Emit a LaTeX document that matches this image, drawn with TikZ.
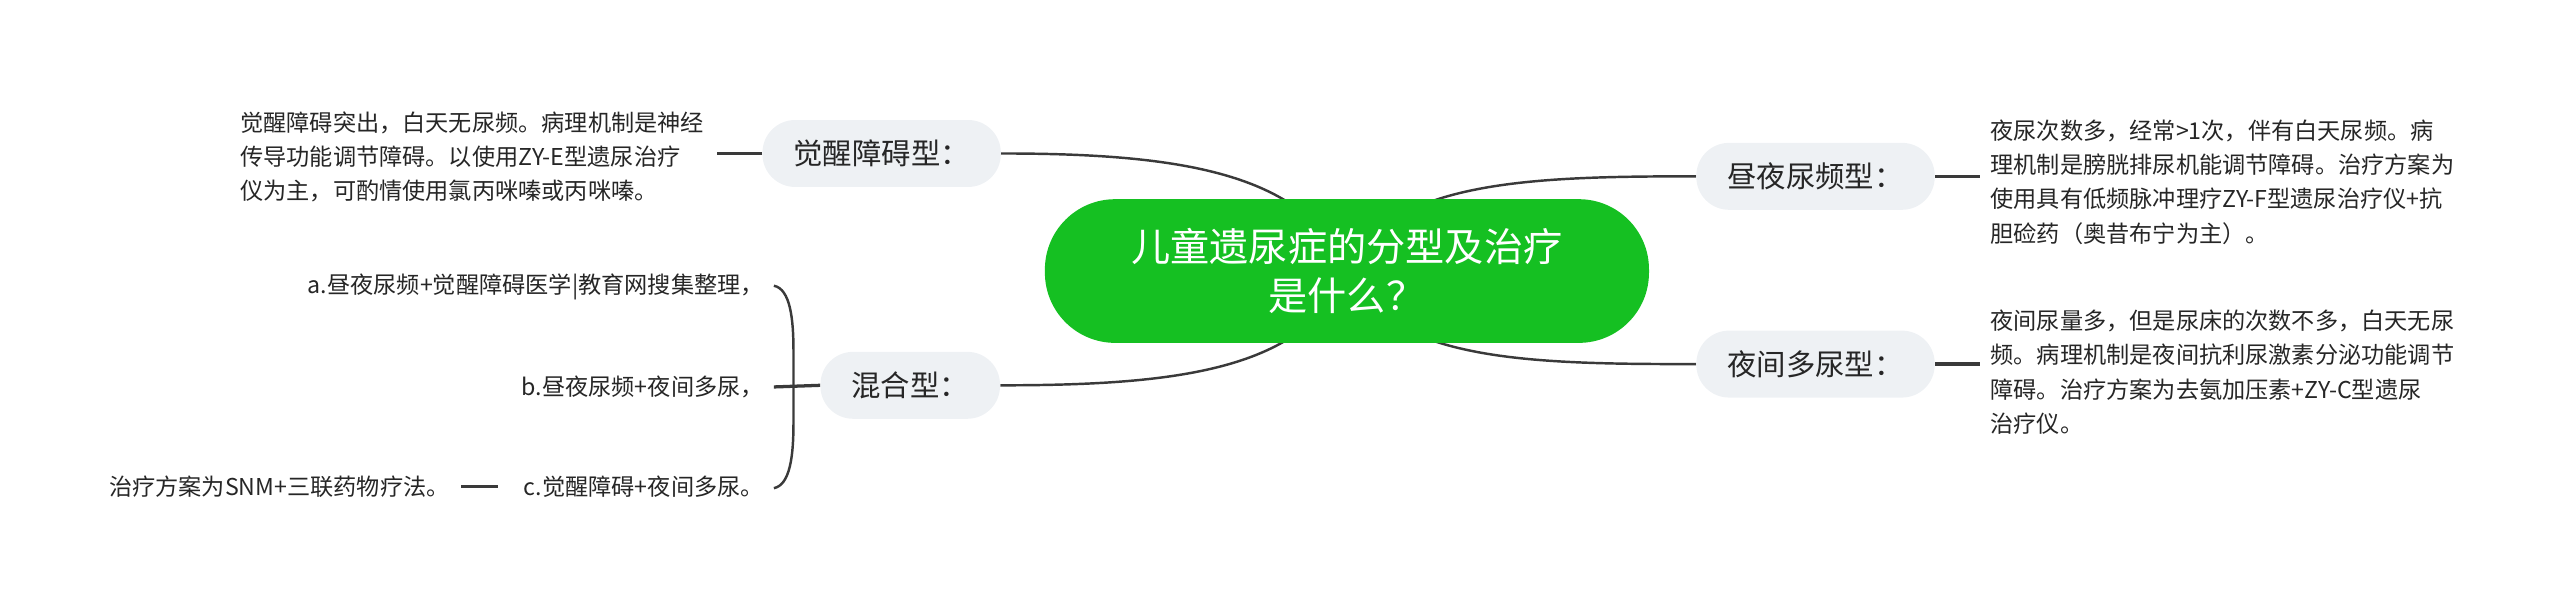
\documentclass[tikz,border=0pt]{standalone}
\usepackage{fontspec}
\setmainfont{Noto Sans CJK SC}
\usetikzlibrary{backgrounds}
\definecolor{rootgreen}{HTML}{15C022}
\definecolor{branchfill}{HTML}{EEF1F4}
\definecolor{linecol}{HTML}{3A3A3A}
\definecolor{textcol}{HTML}{262626}
\begin{document}
\begin{tikzpicture}[x=1pt,y=-1pt,
  rootbox/.style={fill=rootgreen,rounded corners=43pt,minimum width=370pt,minimum height=88pt,
    text=white,align=center,font=\fontsize{24pt}{30pt}\selectfont,inner sep=0pt},
  branchbox/.style={fill=branchfill,rounded corners=20pt,minimum height=41pt,inner xsep=19pt,
    text=textcol,font=\fontsize{18pt}{22pt}\selectfont},
  desctext/.style={inner sep=0pt,align=left,text=textcol,font=\fontsize{14.2pt}{21pt}\selectfont},
  leaftext/.style={inner sep=0pt,text=textcol,font=\fontsize{14.2pt}{21pt}\selectfont},
  curveline/.style={draw=linecol,line width=1.5pt},
  shortline/.style={draw=linecol,line width=2pt},
]
\useasboundingbox (0,0) rectangle (1568,375.5);

\node[rootbox] (root) at (825,166) {儿童遗尿症的分型及治疗\\是什么？};

\node[branchbox] (b1) at (540,94) {觉醒障碍型：};
\node[branchbox] (b2) at (1112,108) {昼夜尿频型：};
\node[branchbox] (b3) at (1112,223) {夜间多尿型：};
\node[branchbox] (b4) at (557.5,236) {混合型：};

\node[desctext,anchor=west] (d1) at (147,96) {觉醒障碍突出，白天无尿频。病理机制是神经\\传导功能调节障碍。以使用ZY-E型遗尿治疗\\仪为主，可酌情使用氯丙咪嗪或丙咪嗪。};
\node[desctext,anchor=west] (d2) at (1219,111.5) {夜尿次数多，经常>1次，伴有白天尿频。病\\理机制是膀胱排尿机能调节障碍。治疗方案为\\使用具有低频脉冲理疗ZY-F型遗尿治疗仪+抗\\胆硷药（奥昔布宁为主）。};
\node[desctext,anchor=west] (d3) at (1219,228) {夜间尿量多，但是尿床的次数不多，白天无尿\\频。病理机制是夜间抗利尿激素分泌功能调节\\障碍。治疗方案为去氨加压素+ZY-C型遗尿\\治疗仪。};

\node[leaftext,anchor=east] (ma) at (468,176) {a.昼夜尿频+觉醒障碍医学|教育网搜集整理，};
\node[leaftext,anchor=east] (mb) at (468,237) {b.昼夜尿频+夜间多尿，};
\node[leaftext,anchor=east] (mc) at (468,298) {c.觉醒障碍+夜间多尿。};
\node[leaftext,anchor=west] (mt) at (66.7,298) {治疗方案为SNM+三联药物疗法。};

\coordinate (bt) at (474,175);
\coordinate (bm) at (474,237);
\coordinate (bb) at (474,299);
\coordinate (c1) at (b1.west -| d1.east);
\coordinate (c2) at (b2.east -| d2.west);
\coordinate (c3) at (b3.east -| d3.west);

\begin{scope}[on background layer]
  \draw[curveline] (b1.east) .. controls (720,94) and (800,105) .. (root.center);
  \draw[curveline] (b4.east) .. controls (720,236) and (800,227) .. (root.center);
  \draw[curveline] (root.center) .. controls (850,110) and (940,108) .. (b2.west);
  \draw[curveline] (root.center) .. controls (850,222) and (940,223) .. (b3.west);
\end{scope}

\draw[shortline] (b1.west) -- ([xshift=8pt]c1);
\draw[shortline] (b2.east) -- ([xshift=-6pt]c2);
\draw[shortline] (b3.east) -- ([xshift=-6pt]c3);
\draw[shortline] (b4.west) -- (bm);
\draw[curveline] (bt) .. controls (484,177) and (486,195) .. (486,215) -- (486,259) .. controls (486,279) and (484,297) .. (bb);
\draw[shortline] ([xshift=-16pt]mc.west) -- ([xshift=7pt]mt.east);
\end{tikzpicture}
\end{document}
